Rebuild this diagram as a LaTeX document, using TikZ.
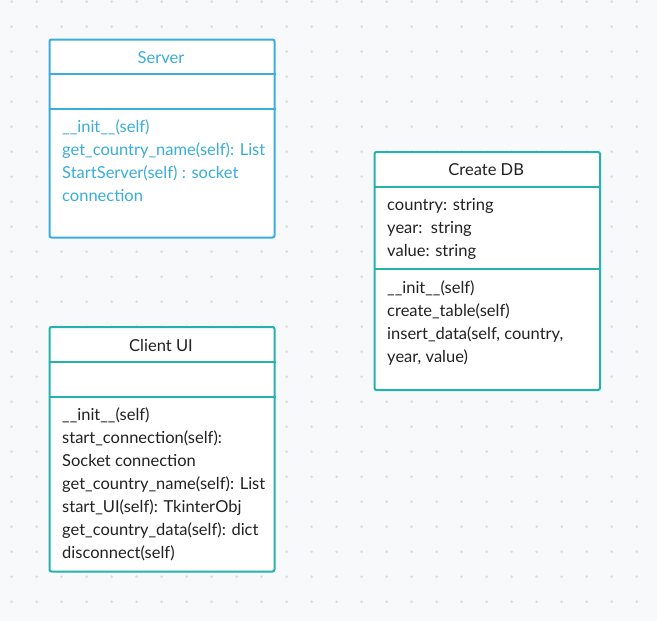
\documentclass[tikz,border=0pt]{standalone}
\usepackage{fontspec}
\setmainfont{Lato}
\definecolor{bgc}{HTML}{F8F9FB}
\definecolor{dotc}{HTML}{DCDDE1}
\definecolor{srvblue}{HTML}{3AAEDB}
\definecolor{tealc}{HTML}{24B3AC}
\definecolor{txt}{HTML}{222222}
\tikzset{
  umlbox/.style={draw, fill=white, line width=2pt, rounded corners=2pt, inner sep=0pt, anchor=north west},
  row/.style={anchor=base west, inner sep=0pt, font=\fontsize{16.5}{18}\selectfont},
  title/.style={anchor=base, inner sep=0pt, font=\fontsize{16.5}{18}\selectfont},
}
\begin{document}
\begin{tikzpicture}[x=1pt,y=-1pt]
\fill[bgc] (0,0) rectangle (657,621);
\useasboundingbox (0,0) rectangle (657,621);
\foreach \i in {0,...,26}{
  \foreach \j in {0,...,24}{
    \fill[dotc] (11.7+25*\i,1.7+25*\j) circle (1.5pt);
  }
}
% Server
\node[umlbox, draw=srvblue, minimum width=225pt, minimum height=198pt] (server) at (48.5,38.5) {};
\draw[srvblue, line width=2pt] ([yshift=-35.5pt]server.north west) -- ([yshift=-35.5pt]server.north east);
\draw[srvblue, line width=2pt] ([yshift=-70.5pt]server.north west) -- ([yshift=-70.5pt]server.north east);
\begin{scope}[every node/.append style={text=srvblue}]
\node[title] (st) at (161,63.3) {Server};
\node[row] (s1) at (62,132.5) {\_\_init\_\_(self)};
\node[row] (s2) at (62,155.5) {get\_country\_name(self): List};
\node[row] (s3) at (62,178.5) {StartServer(self) : socket};
\node[row] (s4) at (62,201.5) {connection};
\end{scope}
% Create DB
\node[umlbox, draw=tealc, minimum width=225.5pt, minimum height=238pt] (db) at (373.5,151) {};
\draw[tealc, line width=2pt] ([yshift=-36pt]db.north west) -- ([yshift=-36pt]db.north east);
\draw[tealc, line width=2pt] ([yshift=-118pt]db.north west) -- ([yshift=-118pt]db.north east);
\begin{scope}[every node/.append style={text=txt}]
\node[title] (dt) at (486.2,175.8) {Create DB};
\node[row] (d1) at (387,210) {country: string};
\node[row] (d2) at (387,233) {year:\ \ string};
\node[row] (d3) at (387,256) {value: string};
\node[row] (d4) at (387,293) {\_\_init\_\_(self)};
\node[row] (d5) at (387,316) {create\_table(self)};
\node[row] (d6) at (387,339) {insert\_data(self, country,};
\node[row] (d7) at (387,362) {year, value)};
\end{scope}
% Client UI
\node[umlbox, draw=tealc, minimum width=225pt, minimum height=244.5pt] (cl) at (48.5,326) {};
\draw[tealc, line width=2pt] ([yshift=-36pt]cl.north west) -- ([yshift=-36pt]cl.north east);
\draw[tealc, line width=2pt] ([yshift=-71pt]cl.north west) -- ([yshift=-71pt]cl.north east);
\begin{scope}[every node/.append style={text=txt}]
\node[title] (ct) at (161,351) {Client UI};
\node[row] (c1) at (62,420.5) {\_\_init\_\_(self)};
\node[row] (c2) at (62,443.5) {start\_connection(self):};
\node[row] (c3) at (62,466.5) {Socket connection};
\node[row] (c4) at (62,489.5) {get\_country\_name(self): List};
\node[row] (c5) at (62,512.5) {start\_UI(self): TkinterObj};
\node[row] (c6) at (62,535.5) {get\_country\_data(self): dict};
\node[row] (c7) at (62,558.5) {disconnect(self)};
\end{scope}
\end{tikzpicture}
\end{document}
